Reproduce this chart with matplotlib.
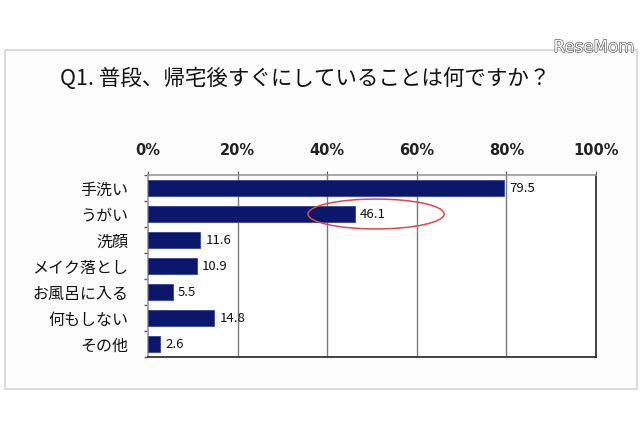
import matplotlib
matplotlib.use("Agg")
import matplotlib.pyplot as plt
from matplotlib.patches import Ellipse, Rectangle
import matplotlib.patheffects as pe
import numpy as np

plt.rcParams['font.family'] = ['Noto Sans CJK JP', 'DejaVu Sans']

title = "Q1. 普段、帰宅後すぐにしていることは何ですか？"
categories = ["手洗い", "うがい", "洗顔", "メイク落とし", "お風呂に入る", "何もしない", "その他"]
values = [79.5, 46.1, 11.6, 10.9, 5.5, 14.8, 2.6]
xticks = [0, 20, 40, 60, 80, 100]
xtick_labels = ["0%", "20%", "40%", "60%", "80%", "100%"]

fig = plt.figure(figsize=(6.4, 4.26), dpi=100)
fig.patch.set_facecolor("white")

# outer light frame
frame = Rectangle((5/640, 1-389/426), 632/640, (389-50)/426,
                  transform=fig.transFigure, fill=True,
                  facecolor="#fdfdfd", edgecolor="#d4d4d4", lw=1.2, zorder=-10)
fig.patches.append(frame)

ax = fig.add_axes([148/640, 1-357/426, 448/640, 182/426])
ax.set_zorder(2)
ax.set_facecolor("white")
y = np.arange(len(categories))
ax.barh(y, values, height=0.65, color="#0a176a", edgecolor="#34449a", linewidth=0.6, zorder=3)
ax.set_xlim(0, 100)
ax.set_ylim(len(categories) - 0.5, -0.5)

ax.set_yticks(y)
ax.set_yticklabels(categories, fontsize=11.5, color="#111111")
ax.tick_params(axis='y', which='major', length=0, pad=14)
ax.set_yticks(np.arange(len(categories) + 1) - 0.5, minor=True)
ax.tick_params(axis='y', which='minor', length=3, color="#555555", width=1)

ax.xaxis.tick_top()
ax.set_xticks(xticks)
ax.set_xticklabels(xtick_labels, fontsize=10.5, fontweight='bold', color="#222222",
                   family=['DejaVu Sans'])
ax.tick_params(axis='x', length=3, color="#555555", pad=9)

for xv in xticks[1:-1]:
    ax.axvline(xv, color="#7a7a7a", lw=1, zorder=1)

for s in ['left', 'top']:
    ax.spines[s].set_color("#9a9a9a")
    ax.spines[s].set_linewidth(1.2)
for s in ['right', 'bottom']:
    ax.spines[s].set_color("#333333")
    ax.spines[s].set_linewidth(1.3)

for yi, v in zip(y, values):
    ax.text(v + 1.2, yi, f"{v}", va='center', ha='left', fontsize=9.5, color="#111111", zorder=4)

# red ellipse highlighting うがい
idx = 1
ax.add_patch(Ellipse((values[idx] + 4.8, idx), width=30.4, height=1.15, fill=False,
                     edgecolor="#e04848", lw=1.1, zorder=5, clip_on=False))

fig.text(305/640, 1-79/426, title, ha='center', va='center', fontsize=15.5, color="#111111")

fig.text(594/640, 1-47/426, "ReseMom", ha='center', va='center', fontsize=12,
         color="#ffffff", family=['DejaVu Sans'],
         path_effects=[pe.withStroke(linewidth=0.9, foreground="#555555")], zorder=5)

fig.savefig("out.png", dpi=100)
